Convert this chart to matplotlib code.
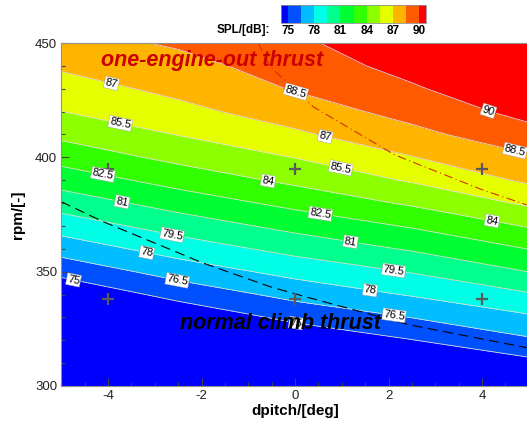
import numpy as np
import matplotlib
matplotlib.use('Agg')
import matplotlib.pyplot as plt
from matplotlib.colors import ListedColormap
from matplotlib.ticker import MultipleLocator

plt.rcParams['font.family'] = ['Liberation Sans', 'DejaVu Sans']
plt.rcParams['axes.unicode_minus'] = False

# ---------------- data ----------------
pitch = [-5.0, -2.5, 0.0, 2.5, 5.0]
rpm = [300, 310, 320, 330, 340, 350, 360, 370, 380, 390, 400, 410, 420, 430, 440, 450]
# SPL [dB] on the (rpm x pitch) grid
spl = [
    [67.00, 68.80, 70.64, 71.79, 72.83],
    [68.60, 70.50, 72.22, 73.37, 74.55],
    [70.20, 72.20, 73.80, 74.95, 76.28],
    [71.90, 73.80, 75.38, 76.53, 77.77],
    [73.70, 75.50, 76.96, 78.12, 79.35],
    [75.44, 77.13, 78.49, 79.59, 81.02],
    [77.12, 78.67, 79.99, 81.16, 82.53],
    [78.67, 80.15, 81.46, 82.64, 84.11],
    [80.17, 81.61, 82.93, 84.21, 85.74],
    [81.63, 83.07, 84.33, 85.65, 87.25],
    [83.06, 84.40, 85.54, 86.94, 88.33],
    [84.34, 85.55, 86.75, 88.09, 89.47],
    [85.48, 86.57, 87.74, 89.01, 90.48],
    [86.36, 87.38, 88.60, 89.80, 91.36],
    [87.21, 88.04, 89.12, 90.56, 92.20],
    [87.96, 88.68, 89.64, 91.31, 93.00],
]
levels = [75, 76.5, 78, 79.5, 81, 82.5, 84, 85.5, 87, 88.5, 90]
cbar_ticks = [75, 78, 81, 84, 87, 90]

# measured operating points
pts_pitch = [-4, 0, 4, -4, 0, 4]
pts_rpm = [395, 395, 395, 338, 338, 338]

# constant-thrust curves
climb_pitch = [-5.0, -4.11, -1.97, -0.53, 0.32, 2.46, 5.0]
climb_rpm = [380.6, 371.9, 353.8, 343.4, 338.5, 326.7, 316.6]
oeo_pitch = [-0.79, -0.53, 0.39, 2.14, 4.02, 4.96]
oeo_rpm = [450.0, 439.6, 422.1, 401.0, 385.7, 379.2]

# ---------------- style ----------------
band_colors = ['#0050FF', '#00BEFF', '#00FFE6', '#00FF8C', '#00FF32',
               '#32FF00', '#8CFF00', '#E6FF00', '#FFB400', '#FF5A00']
under_color = '#0000FF'
over_color = '#FF0000'

label_pos = {
    75: [(-4.75, 345.1), (0.0, 324.5)],
    76.5: [(-2.52, 345.9), (2.10, 328.4)],
    78: [(-3.17, 358.6), (1.60, 340.7)],
    79.5: [(-2.63, 366.0), (2.10, 349.0)],
    81: [(-3.70, 380.5), (1.18, 362.1)],
    82.5: [(-4.11, 392.3), (0.53, 373.9)],
    84: [(-0.58, 389.2), (4.21, 371.7)],
    85.5: [(-3.74, 414.6), (0.96, 393.6)],
    87: [(-3.91, 433.8), (0.64, 408.5)],
    88.5: [(0.0, 427.3), (4.71, 403.2)],
    90: [(4.13, 419.8)],
}

W, H = 527, 424
fig = plt.figure(figsize=(W / 100, H / 100), dpi=100)
ax = fig.add_axes([61.25 / W, 1 - 386 / H, 467.5 / W, 343 / H])

cmap = ListedColormap(band_colors)
cmap.set_under(under_color)
cmap.set_over(over_color)

X, Y = np.meshgrid(pitch, rpm)
Z = np.array(spl)
cf = ax.contourf(X, Y, Z, levels=levels, cmap=cmap, extend='both')

all_texts = []
for lev, pos in label_pos.items():
    cs = ax.contour(X, Y, Z, levels=[lev], colors='#dcdcdc', linewidths=0.6)
    txts = ax.clabel(cs, manual=pos, inline=True, inline_spacing=2,
                     fmt='%g', fontsize=8, colors='black')
    all_texts.extend(txts)
for t in all_texts:
    t.set_bbox(dict(boxstyle='square,pad=0.08', fc='white', ec='#999999', lw=0.3))

ax.plot(climb_pitch, climb_rpm, color='black', lw=0.8, ls=(0, (9, 5)))
ax.plot(oeo_pitch, oeo_rpm, color='#D23200', lw=0.8, ls=(0, (8, 3, 1, 3)))
ax.plot(pts_pitch, pts_rpm, ls='none', marker='+', ms=8, mew=1.6, color='#5a5a5a')

ax.text(-4.15, 440.1, 'one-engine-out thrust', color='#CC0000', fontsize=15.5,
        fontweight='bold', fontstyle='italic', va='baseline', ha='left', zorder=10)
ax.text(-2.46, 324.9, 'normal climb thrust', color='black', fontsize=15.5,
        fontweight='bold', fontstyle='italic', va='baseline', ha='left', zorder=10)

ax.set_xlim(-5, 5)
ax.set_ylim(300, 450)
ax.set_xticks([-4, -2, 0, 2, 4])
ax.set_yticks([300, 350, 400, 450])
ax.xaxis.set_minor_locator(MultipleLocator(0.5))
ax.yaxis.set_minor_locator(MultipleLocator(10))
ax.tick_params(which='both', direction='in', color='#444444', width=0.8,
               top=False, right=False, labelsize=9.5, labelcolor='#222222')
ax.tick_params(which='major', length=6, pad=3)
ax.tick_params(which='minor', length=3)
for s in ax.spines.values():
    s.set_color('#909090')
    s.set_linewidth(0.8)

fig.text(295 / W, 1 - 411 / H, 'dpitch/[deg]', ha='center', va='center',
         fontsize=11, fontweight='bold')
fig.text(18 / W, 1 - 215 / H, 'rpm/[-]', ha='center', va='center', rotation=90,
         fontsize=11, fontweight='bold')

cax = fig.add_axes([281 / W, 1 - 22.7 / H, 145 / W, 17.7 / H])
cb = fig.colorbar(cf, cax=cax, orientation='horizontal', extendrect=True,
                  extendfrac=0.05, ticks=cbar_ticks)
cb.ax.tick_params(length=0, pad=2, labelsize=8.5)
for t in cb.ax.get_xticklabels():
    t.set_fontweight('bold')
cb.outline.set_edgecolor('#909090')
cb.outline.set_linewidth(0.6)
fig.text(270 / W, 1 - 30 / H, 'SPL/[dB]:', ha='right', va='center',
         fontsize=8.5, fontweight='bold')

fig.savefig('out.png', dpi=100)
